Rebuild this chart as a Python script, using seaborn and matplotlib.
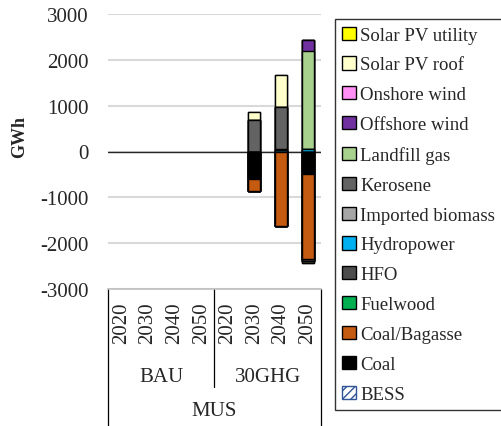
import numpy as np
import pandas as pd
import matplotlib
matplotlib.use("Agg")
import matplotlib.pyplot as plt
import seaborn as sns
from matplotlib.patches import Patch
from matplotlib.transforms import blended_transform_factory

# ---- data ----
scenarios = ["BAU"] * 4 + ["30GHG"] * 4
years = ["2020", "2030", "2040", "2050"] * 2
region = "MUS"

series_names = ["BESS", "Coal", "Coal/Bagasse", "Fuelwood", "HFO", "Hydropower",
                "Imported biomass", "Kerosene", "Landfill gas", "Offshore wind",
                "Onshore wind", "Solar PV roof", "Solar PV utility"]
bess = [0, 0, 0, 0, 0, 0, 0, 0]
coal = [0, 0, 0, 0, 0, -610, 0, -480]
coal_bagasse = [0, 0, 0, 0, 0, -255, -1627, -1873]
fuelwood = [0, 0, 0, 0, 0, 0, 0, 0]
hfo = [0, 0, 0, 0, 0, 0, 0, -37]
hydropower = [0, 0, 0, 0, 0, 0, 35, 45]
imported_biomass = [0, 0, 0, 0, 0, 0, 25, 0]
kerosene = [0, 0, 0, 0, 0, 697, 914, 0]
landfill_gas = [0, 0, 0, 0, 0, 0, 0, 2145]
offshore_wind = [0, 0, 0, 0, 0, 0, 0, 232]
onshore_wind = [0, 0, 0, 0, 0, 0, 0, 0]
solar_pv_roof = [0, 0, 0, 0, 0, 168, 689, -50]
solar_pv_utility = [0, 0, 0, 0, 0, 0, 0, 0]

y_ticks = [-3000, -2000, -1000, 0, 1000, 2000, 3000]

series_values = [bess, coal, coal_bagasse, fuelwood, hfo, hydropower, imported_biomass,
                 kerosene, landfill_gas, offshore_wind, onshore_wind, solar_pv_roof,
                 solar_pv_utility]
colors = ["#FFFFFF", "#000000", "#C55A11", "#00B050", "#4D4D4D", "#00B0F0", "#A6A6A6",
          "#636363", "#A9D18E", "#7030A0", "#FF8FF5", "#FFFFCC", "#FFFF00"]

# ---- style ----
sns.set_style("white")
plt.rcParams["font.family"] = ["Liberation Serif", "DejaVu Serif"]

W, H = 502, 427
fig = plt.figure(figsize=(W / 100, H / 100), dpi=100)
ax = fig.add_axes([108 / W, 1 - 290 / H, 213 / W, 275 / H])

keys = [f"{s}-{y}" for s, y in zip(scenarios, years)]
vals = np.array(series_values, dtype=float)
cum_pos = np.cumsum(np.clip(vals, 0, None), axis=0)
cum_neg = np.cumsum(np.clip(vals, None, 0), axis=0)

for i in reversed(range(len(series_names))):
    for cum in (cum_pos, cum_neg):
        h = np.where(cum[i] != 0, cum[i], np.nan)
        if np.all(np.isnan(h)):
            continue
        df = pd.DataFrame({"cat": keys, "val": h})
        sns.barplot(data=df, x="cat", y="val", order=keys, color=colors[i],
                    saturation=1, width=0.45, edgecolor="black", linewidth=1,
                    errorbar=None, ax=ax, zorder=3)

ax.set_ylim(-3000, 3000)
ax.set_xlim(-0.5, 7.5)
ax.set_yticks(y_ticks)
ax.set_yticklabels([str(t) for t in y_ticks], fontsize=15)
ax.set_xticks(range(8))
ax.set_xticklabels(years, rotation=90, fontsize=15)
ax.tick_params(axis="y", length=0, pad=14)
ax.tick_params(axis="x", length=0, pad=9)
ax.set_xlabel("")
ax.set_ylabel("")
ax.yaxis.grid(True, color="#d9d9d9", linewidth=1.5, zorder=0)
ax.set_axisbelow(True)
ax.axhline(0, color="#262626", linewidth=1, zorder=1)
for s in ["top", "right", "left"]:
    ax.spines[s].set_visible(False)
ax.spines["bottom"].set_color("#bfbfbf")
ax.spines["bottom"].set_linewidth(1.2)

tr = blended_transform_factory(ax.transData, ax.transAxes)
ax.plot([-0.5, -0.5], [0, -0.5], color="black", lw=0.9, transform=tr, clip_on=False)
ax.plot([7.5, 7.5], [0, -0.5], color="black", lw=0.9, transform=tr, clip_on=False)
ax.plot([3.5, 3.5], [0, -0.356], color="black", lw=0.9, transform=tr, clip_on=False)
ax.text(1.5, (290 - 378) / 275, "BAU", transform=tr, ha="center", va="center", fontsize=15)
ax.text(5.5, (290 - 378) / 275, "30GHG", transform=tr, ha="center", va="center", fontsize=15)
ax.text(3.5, (290 - 412) / 275, region, transform=tr, ha="center", va="center", fontsize=15)

fig.text(20 / W, 1 - 137 / H, "GWh", rotation=90, fontweight="bold", fontsize=13,
         ha="center", va="center")

handles = []
for name, c in zip(series_names, colors):
    if name == "BESS":
        handles.append(Patch(facecolor="white", edgecolor="#2F5597", hatch="////", linewidth=1))
    else:
        handles.append(Patch(facecolor=c, edgecolor="black", linewidth=1))
leg = fig.legend(handles[::-1], series_names[::-1], loc="upper left",
                 bbox_to_anchor=(335 / W, 1 - 20 / H), frameon=True, fancybox=False,
                 edgecolor="black", fontsize=13.5, handlelength=0.7, handleheight=0.7,
                 handletextpad=0.25, labelspacing=0.68, borderpad=0.4, borderaxespad=0)
leg.get_frame().set_linewidth(1)

fig.savefig("out.png", dpi=100)
